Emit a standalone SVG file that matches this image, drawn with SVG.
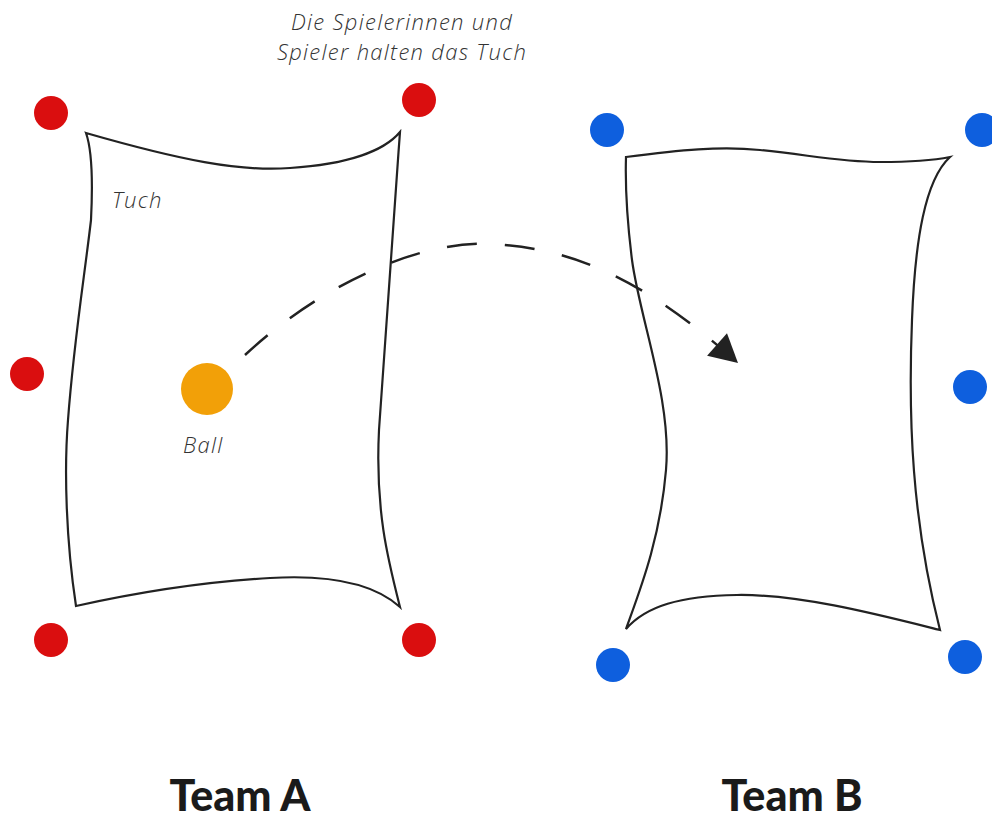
<svg xmlns="http://www.w3.org/2000/svg" width="992" height="820" viewBox="0 0 992 820">
<defs>
<style>
.cloth{fill:none;stroke:#222;stroke-width:2.2;stroke-linejoin:miter}
.red{fill:#da0e0f}
.blue{fill:#0e5fde}
.ball{fill:#f2a008}
.lbl{font-family:"Open Sans","Noto Sans",sans-serif;font-style:italic;font-weight:300;font-size:22px;letter-spacing:1.3px;fill:#333}
.team{font-family:Lato,"Liberation Sans",sans-serif;font-weight:900;font-size:43px;fill:#1a1a1a;text-anchor:middle}
.arc{fill:none;stroke:#222;stroke-width:2.5;stroke-dasharray:30 28}
</style>
<marker id="ah" viewBox="-30 -20 40 40" refX="0" refY="0" markerWidth="40" markerHeight="40" markerUnits="userSpaceOnUse" orient="auto" overflow="visible">
<path d="M-28,-15 L0,0 L-28,15 Z" fill="#222"/>
</marker>
</defs>
<rect width="992" height="820" fill="#fff"/>
<g id="cloth-a">
<path class="cloth" d="M86,133 C180,160 240,172 290,168 C350,164 385,150 400,132 C392,240 384,350 379,430 C375,510 388,560 400,607 C370,580 320,575 270,578 C200,582 130,594 76,606 C66,540 64,470 68,420 C74,340 84,280 91,220 C93,180 92,150 86,133 Z"/>
<text class="lbl" x="112" y="208">Tuch</text>
</g>
<g id="cloth-b">
<path class="cloth" d="M626,157 C680,150 720,146 760,150 C810,155 840,162 880,162 C915,162 935,160 950,157 C925,180 915,240 912,320 C908,420 912,520 940,630 C880,615 800,594 737,595 C680,596 646,606 626,629 C640,590 660,540 666,470 C672,400 640,320 632,260 C627,220 625,190 626,157 Z"/>
</g>
<g id="players-a">
<circle class="red" cx="51" cy="113" r="17"/>
<circle class="red" cx="419" cy="100" r="17"/>
<circle class="red" cx="27" cy="374" r="17"/>
<circle class="red" cx="51" cy="640" r="17"/>
<circle class="red" cx="419" cy="640" r="17"/>
</g>
<g id="players-b">
<circle class="blue" cx="607" cy="130" r="17"/>
<circle class="blue" cx="982" cy="130" r="17"/>
<circle class="blue" cx="970" cy="387" r="17"/>
<circle class="blue" cx="613" cy="665" r="17"/>
<circle class="blue" cx="965" cy="657" r="17"/>
</g>
<g id="ball">
<circle class="ball" cx="207" cy="389" r="26"/>
<text class="lbl" x="183" y="453">Ball</text>
</g>
<g id="connectors">
<path class="arc" d="M245,355 C320,285 420,240 490,244 C580,248 650,285 738,363" marker-end="url(#ah)"/>
</g>
<g id="note">
<text class="lbl" text-anchor="middle"><tspan x="402" y="29.5">Die Spielerinnen und</tspan><tspan x="402" y="60">Spieler halten das Tuch</tspan></text>
</g>
<g id="teams">
<text class="team" x="240" y="811">Team A</text>
<text class="team" x="792" y="811">Team B</text>
</g>
</svg>
